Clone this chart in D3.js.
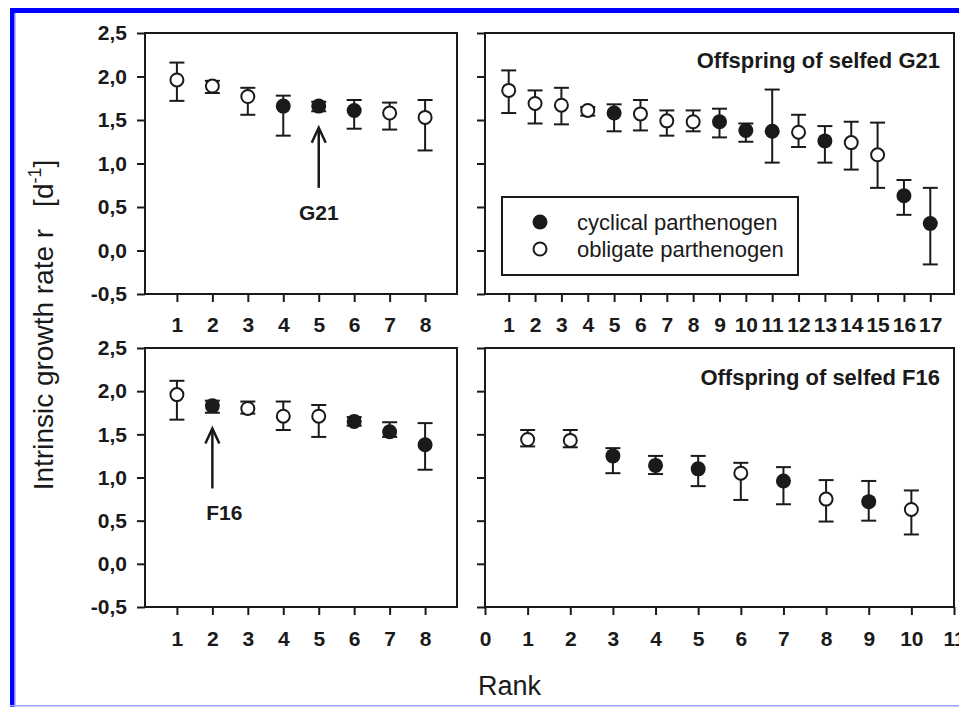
<!DOCTYPE html>
<html>
<head>
<meta charset="utf-8">
<script src="https://cdn.jsdelivr.net/npm/d3@7"></script>
<style>
  body { margin: 0; background: #fff; }
  svg { display: block; font-family: 'Liberation Sans', Arial, sans-serif; }
</style>
</head>
<body>
<div id="chart"></div>
<script>
// Values (mean r, upper and lower end of the error bar)
// type: 'c' = cyclical parthenogen (filled), 'o' = obligate parthenogen (open)

// Top left: clones, G21 marked
const cloneARanks = [1, 2, 3, 4, 5, 6, 7, 8];
const cloneAMean = [1.96, 1.89, 1.77, 1.66, 1.66, 1.61, 1.58, 1.53];
const cloneAUpper = [2.16, 1.95, 1.87, 1.78, 1.71, 1.73, 1.70, 1.73];
const cloneALower = [1.72, 1.81, 1.56, 1.32, 1.60, 1.40, 1.39, 1.15];
const cloneAType = ['o', 'o', 'o', 'c', 'c', 'c', 'o', 'o'];

// Top right: offspring of selfed G21
const g21Ranks = d3.range(1, 18);
const g21Mean = [1.84, 1.69, 1.67, 1.61, 1.58, 1.57, 1.49, 1.48, 1.48, 1.38, 1.37, 1.36, 1.26, 1.24, 1.10, 0.63, 0.31];
const g21Upper = [2.07, 1.84, 1.87, 1.65, 1.68, 1.73, 1.61, 1.61, 1.63, 1.46, 1.85, 1.56, 1.43, 1.48, 1.47, 0.81, 0.72];
const g21Lower = [1.58, 1.46, 1.45, 1.55, 1.37, 1.38, 1.32, 1.37, 1.30, 1.25, 1.01, 1.19, 1.01, 0.93, 0.72, 0.41, -0.16];
const g21Type = ['o', 'o', 'o', 'o', 'c', 'o', 'o', 'o', 'c', 'c', 'c', 'o', 'c', 'o', 'o', 'c', 'c'];

// Bottom left: clones, F16 marked
const cloneBRanks = [1, 2, 3, 4, 5, 6, 7, 8];
const cloneBMean = [1.96, 1.83, 1.80, 1.71, 1.71, 1.65, 1.53, 1.38];
const cloneBUpper = [2.12, 1.89, 1.88, 1.88, 1.84, 1.70, 1.64, 1.63];
const cloneBLower = [1.67, 1.75, 1.74, 1.55, 1.47, 1.60, 1.47, 1.09];
const cloneBType = ['o', 'c', 'o', 'o', 'o', 'c', 'c', 'c'];

// Bottom right: offspring of selfed F16
const f16Ranks = d3.range(1, 11);
const f16Mean = [1.44, 1.43, 1.25, 1.14, 1.10, 1.05, 0.96, 0.75, 0.72, 0.63];
const f16Upper = [1.55, 1.55, 1.34, 1.25, 1.25, 1.17, 1.12, 0.97, 0.96, 0.85];
const f16Lower = [1.36, 1.35, 1.05, 1.04, 0.90, 0.74, 0.69, 0.49, 0.50, 0.34];
const f16Type = ['o', 'o', 'c', 'c', 'c', 'o', 'c', 'o', 'c', 'o'];

const yTicks = [-0.5, 0, 0.5, 1, 1.5, 2, 2.5];
const legendLabels = ['cyclical parthenogen', 'obligate parthenogen'];

const W = 959, H = 707;
const ink = '#1a1a1a';
const commaFmt = (d) => d.toFixed(1).replace('.', ',');

const svg = d3.select('#chart').append('svg')
  .attr('width', W)
  .attr('height', H);

// Blue frame round the figure
svg.append('rect').attr('x', 10).attr('y', 8).attr('width', W - 10).attr('height', 5).attr('fill', '#0000ff');
svg.append('rect').attr('x', 10).attr('y', 8).attr('width', 4).attr('height', H - 8).attr('fill', '#0000ff');
svg.append('rect').attr('x', 14).attr('y', 13).attr('width', 1.5).attr('height', H - 13).attr('fill', '#8080ff');
svg.append('rect').attr('x', 10).attr('y', 705).attr('width', W - 10).attr('height', 1.5).attr('fill', '#a0a0ff');

function drawPanel(p) {
  const x = d3.scaleLinear().domain(p.xDomain).range(p.xRange);
  const y = d3.scaleLinear().domain([-0.5, 2.5]).range([p.yRange[1], p.yRange[0]]);
  const g = svg.append('g');

  // Frame
  g.append('rect')
    .attr('x', p.xRange[0])
    .attr('y', p.yRange[0])
    .attr('width', p.xRange[1] - p.xRange[0])
    .attr('height', p.yRange[1] - p.yRange[0])
    .attr('fill', 'none')
    .attr('stroke', ink)
    .attr('stroke-width', 2);

  // Y axis (labels only on the left column)
  const yAxis = g.append('g')
    .attr('transform', 'translate(' + p.xRange[0] + ',0)')
    .call(d3.axisLeft(y).tickValues(yTicks).tickSize(8).tickPadding(10)
      .tickFormat(p.yLabels ? commaFmt : ''));
  // X axis
  const xAxis = g.append('g')
    .attr('transform', 'translate(0,' + p.yRange[1] + ')')
    .call(d3.axisBottom(x).tickValues(p.xTicks).tickSize(8).tickPadding(p.xPad)
      .tickFormat(d3.format('d')));

  [yAxis, xAxis].forEach((a) => {
    a.select('.domain').remove();
    a.selectAll('.tick line').attr('stroke', ink).attr('stroke-width', 2);
    a.selectAll('.tick text')
      .attr('fill', ink)
      .style('font-size', '21px')
      .style('font-weight', 'bold');
  });

  const rows = p.ranks.map((r, i) => ({
    rank: r, mean: p.mean[i], hi: p.upper[i], lo: p.lower[i], type: p.type[i],
  }));

  // Error bars
  const bars = g.append('g').attr('stroke', ink).attr('stroke-width', 2);
  bars.selectAll('.stem').data(rows).enter().append('line')
    .attr('x1', (d) => x(d.rank)).attr('x2', (d) => x(d.rank))
    .attr('y1', (d) => y(d.hi)).attr('y2', (d) => y(d.lo));
  bars.selectAll('.capHi').data(rows).enter().append('line')
    .attr('x1', (d) => x(d.rank) - 7.5).attr('x2', (d) => x(d.rank) + 7.5)
    .attr('y1', (d) => y(d.hi)).attr('y2', (d) => y(d.hi));
  bars.selectAll('.capLo').data(rows).enter().append('line')
    .attr('x1', (d) => x(d.rank) - 7.5).attr('x2', (d) => x(d.rank) + 7.5)
    .attr('y1', (d) => y(d.lo)).attr('y2', (d) => y(d.lo));

  // Points
  g.selectAll('.pt').data(rows).enter().append('circle')
    .attr('cx', (d) => x(d.rank))
    .attr('cy', (d) => y(d.mean))
    .attr('r', (d) => (d.type === 'c' ? 7.5 : 6.5))
    .attr('fill', (d) => (d.type === 'c' ? ink : '#fff'))
    .attr('stroke', ink)
    .attr('stroke-width', (d) => (d.type === 'c' ? 0 : 2));

  if (p.title) {
    g.append('text')
      .attr('x', p.xRange[1] - 14)
      .attr('y', p.yRange[0] + p.titleDy)
      .attr('text-anchor', 'end')
      .attr('fill', ink)
      .style('font-size', '22px')
      .style('font-weight', 'bold')
      .text(p.title);
  }

  if (p.arrow) {
    const a = p.arrow;
    const ax = x(a.rank), tip = y(a.tip);
    g.append('line')
      .attr('x1', ax).attr('x2', ax)
      .attr('y1', tip + 1).attr('y2', y(a.base))
      .attr('stroke', ink).attr('stroke-width', 2.5);
    g.append('path')
      .attr('d', 'M' + (ax - 7) + ',' + (tip + 15) + 'L' + ax + ',' + tip + 'L' + (ax + 7) + ',' + (tip + 15))
      .attr('fill', 'none').attr('stroke', ink).attr('stroke-width', 2.5);
    g.append('text')
      .attr('x', ax + a.textDx)
      .attr('y', y(a.text))
      .attr('text-anchor', 'middle')
      .attr('fill', ink)
      .style('font-size', '21px')
      .style('font-weight', 'bold')
      .text(a.label);
  }

  return g;
}

drawPanel({
  xRange: [145, 457], yRange: [33, 294], xDomain: [0.1, 8.9], xTicks: cloneARanks, xPad: 15,
  ranks: cloneARanks, mean: cloneAMean, upper: cloneAUpper, lower: cloneALower, type: cloneAType,
  yLabels: true,
  arrow: { rank: 5, tip: 1.41, base: 0.72, text: 0.35, textDx: 0, label: 'G21' },
});

const g21Panel = drawPanel({
  xRange: [485, 954], yRange: [33, 294], xDomain: [0.1, 17.9], xTicks: g21Ranks, xPad: 15,
  ranks: g21Ranks, mean: g21Mean, upper: g21Upper, lower: g21Lower, type: g21Type,
  yLabels: false, title: 'Offspring of selfed G21', titleDy: 35,
});

drawPanel({
  xRange: [145, 457], yRange: [348, 607], xDomain: [0.1, 8.9], xTicks: cloneBRanks, xPad: 16,
  ranks: cloneBRanks, mean: cloneBMean, upper: cloneBUpper, lower: cloneBLower, type: cloneBType,
  yLabels: true,
  arrow: { rank: 2, tip: 1.567, base: 0.873, text: 0.506, textDx: 12, label: 'F16' },
});

drawPanel({
  xRange: [485, 954], yRange: [348, 607], xDomain: [0, 11], xTicks: d3.range(0, 12), xPad: 16,
  ranks: f16Ranks, mean: f16Mean, upper: f16Upper, lower: f16Lower, type: f16Type,
  yLabels: false, title: 'Offspring of selfed F16', titleDy: 37,
});

// Legend inside the G21 offspring panel
const legend = g21Panel.append('g').attr('transform', 'translate(502,197)');
legend.append('rect')
  .attr('width', 296).attr('height', 78)
  .attr('fill', '#fff').attr('stroke', ink).attr('stroke-width', 2);
legendLabels.forEach((lab, i) => {
  const cy = 25 + i * 27;
  legend.append('circle')
    .attr('cx', 38).attr('cy', cy)
    .attr('r', i === 0 ? 7.5 : 6.5)
    .attr('fill', i === 0 ? ink : '#fff')
    .attr('stroke', ink).attr('stroke-width', i === 0 ? 0 : 2);
  legend.append('text')
    .attr('x', 75).attr('y', cy + 8)
    .attr('fill', ink)
    .style('font-size', '22px')
    .text(lab);
});

// Axis titles
const yTitle = svg.append('text')
  .attr('transform', 'translate(53,325) rotate(-90)')
  .attr('text-anchor', 'middle')
  .attr('fill', ink)
  .style('font-size', '28px');
yTitle.append('tspan').text('Intrinsic growth rate r');
yTitle.append('tspan').attr('dx', 22).text('[d');
yTitle.append('tspan').attr('dy', -12).style('font-size', '18px').text('-1');
yTitle.append('tspan').attr('dy', 12).text(']');

svg.append('text')
  .attr('x', 478).attr('y', 695)
  .attr('fill', ink)
  .style('font-size', '27px')
  .text('Rank');
</script>
</body>
</html>
